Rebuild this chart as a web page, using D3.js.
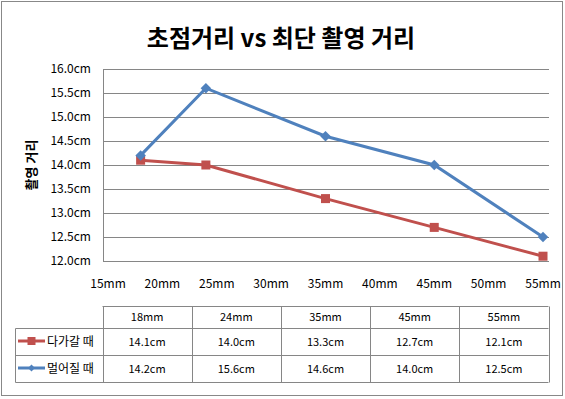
<!DOCTYPE html>
<html>
<head>
<meta charset="utf-8">
<script src="https://cdn.jsdelivr.net/npm/d3@7"></script>
<style>
  body { margin: 0; background: #fff; }
  svg { display: block; font-family: 'Noto Sans CJK KR', 'Noto Sans', sans-serif; }
</style>
</head>
<body>
<svg id="chart" width="565" height="399"></svg>
<script>
// 데이터
const focal = [18, 24, 35, 45, 55];
const approach = [14.1, 14.0, 13.3, 12.7, 12.1];   // 다가갈 때
const away = [14.2, 15.6, 14.6, 14.0, 12.5];       // 멀어질 때
const xTicks = [15, 20, 25, 30, 35, 40, 45, 50, 55];
const yTicks = [12.0, 12.5, 13.0, 13.5, 14.0, 14.5, 15.0, 15.5, 16.0];
const seriesNames = ['다가갈 때', '멀어질 때'];

const red = '#C0504D';
const blue = '#4F81BD';
const gridColor = '#868686';

const svg = d3.select('#chart');

// 바깥 테두리
svg.append('rect')
  .attr('x', 1.5).attr('y', 1.5)
  .attr('width', 561).attr('height', 394)
  .attr('fill', '#fff')
  .attr('stroke', '#888')
  .attr('stroke-width', 1);

// 제목
svg.append('text')
  .attr('x', 281).attr('y', 47)
  .attr('text-anchor', 'middle')
  .style('font-size', '24px')
  .style('font-weight', 'bold')
  .text('초점거리 vs 최단 촬영 거리');

// 플롯 영역
const plot = { left: 103, right: 549, top: 69, bottom: 261 };
const x = d3.scaleLinear().domain([15, 55]).range([108, 543]);
const y = d3.scaleLinear().domain([12, 16]).range([plot.bottom, plot.top]);

// 가로 격자선
svg.append('g')
  .selectAll('line')
  .data(yTicks)
  .join('line')
  .attr('x1', plot.left).attr('x2', plot.right)
  .attr('y1', d => Math.round(y(d)) + 0.5)
  .attr('y2', d => Math.round(y(d)) + 0.5)
  .attr('stroke', gridColor)
  .attr('stroke-width', 1);

// 세로 축선
svg.append('line')
  .attr('x1', plot.left + 0.5).attr('x2', plot.left + 0.5)
  .attr('y1', plot.top).attr('y2', plot.bottom + 1)
  .attr('stroke', gridColor);

// y축 눈금 라벨
svg.append('g')
  .selectAll('text')
  .data(yTicks)
  .join('text')
  .attr('x', 91)
  .attr('y', d => y(d))
  .attr('dy', '0.35em')
  .attr('text-anchor', 'end')
  .style('font-size', '12px')
  .text(d => d.toFixed(1) + 'cm');

// x축 눈금 라벨
svg.append('g')
  .selectAll('text')
  .data(xTicks)
  .join('text')
  .attr('x', d => x(d))
  .attr('y', 288)
  .attr('text-anchor', 'middle')
  .style('font-size', '12px')
  .text(d => d + 'mm');

// y축 제목
svg.append('text')
  .attr('transform', 'translate(36, 165) rotate(-90)')
  .attr('text-anchor', 'middle')
  .style('font-size', '13px')
  .style('font-weight', 'bold')
  .text('촬영 거리');

// 선
const line = d3.line()
  .x((d, i) => x(focal[i]))
  .y(d => y(d));

svg.append('path')
  .datum(approach)
  .attr('d', line)
  .attr('fill', 'none')
  .attr('stroke', red)
  .attr('stroke-width', 3);

svg.append('g')
  .selectAll('rect')
  .data(approach)
  .join('rect')
  .attr('x', (d, i) => x(focal[i]) - 4.5)
  .attr('y', d => y(d) - 4.5)
  .attr('width', 9).attr('height', 9)
  .attr('fill', red);

svg.append('path')
  .datum(away)
  .attr('d', line)
  .attr('fill', 'none')
  .attr('stroke', blue)
  .attr('stroke-width', 3);

const diamond = d3.symbol().type(d3.symbolDiamond2).size(70);
svg.append('g')
  .selectAll('path')
  .data(away)
  .join('path')
  .attr('transform', (d, i) => `translate(${x(focal[i])}, ${y(d)})`)
  .attr('d', diamond)
  .attr('fill', blue);

// 데이터 표
const table = { left: 15.5, colStart: 102.5, colW: 89.2, top: 306.5, rowH: [22, 27, 27] };
const rowY = [table.top, table.top + table.rowH[0], table.top + table.rowH[0] + table.rowH[1],
  table.top + table.rowH[0] + table.rowH[1] + table.rowH[2]];
const tableRight = table.colStart + table.colW * focal.length;
const tg = svg.append('g').attr('stroke', gridColor).attr('stroke-width', 1);

// 가로선
tg.append('line').attr('x1', table.colStart).attr('x2', tableRight).attr('y1', rowY[0]).attr('y2', rowY[0]);
[1, 2, 3].forEach(r => {
  tg.append('line').attr('x1', table.left).attr('x2', tableRight).attr('y1', rowY[r]).attr('y2', rowY[r]);
});
// 세로선
tg.append('line').attr('x1', table.left).attr('x2', table.left).attr('y1', rowY[1]).attr('y2', rowY[3]);
d3.range(focal.length + 1).forEach(c => {
  const cx = Math.round(table.colStart + c * table.colW) + 0.5;
  tg.append('line').attr('x1', cx).attr('x2', cx).attr('y1', rowY[0]).attr('y2', rowY[3]);
});

const cellX = i => table.colStart + (i + 0.5) * table.colW;

svg.append('g')
  .selectAll('text')
  .data(focal)
  .join('text')
  .attr('x', (d, i) => cellX(i))
  .attr('y', (rowY[0] + rowY[1]) / 2)
  .attr('dy', '0.35em')
  .attr('text-anchor', 'middle')
  .style('font-size', '11px')
  .text(d => d + 'mm');

[approach, away].forEach((vals, r) => {
  const cy = (rowY[r + 1] + rowY[r + 2]) / 2;
  svg.append('g')
    .selectAll('text')
    .data(vals)
    .join('text')
    .attr('x', (d, i) => cellX(i))
    .attr('y', cy)
    .attr('dy', '0.35em')
    .attr('text-anchor', 'middle')
    .style('font-size', '11px')
    .text(d => d.toFixed(1) + 'cm');

  // 범례
  const color = r === 0 ? red : blue;
  svg.append('line')
    .attr('x1', 18).attr('x2', 45)
    .attr('y1', cy - 1).attr('y2', cy - 1)
    .attr('stroke', color).attr('stroke-width', 3);
  if (r === 0) {
    svg.append('rect')
      .attr('x', 27.5).attr('y', cy - 5)
      .attr('width', 8).attr('height', 8)
      .attr('fill', red);
  } else {
    svg.append('path')
      .attr('transform', `translate(31.5, ${cy - 1})`)
      .attr('d', d3.symbol().type(d3.symbolDiamond2).size(30))
      .attr('fill', blue);
  }
  svg.append('text')
    .attr('x', 47)
    .attr('y', cy)
    .attr('dy', '0.35em')
    .style('font-size', '12px')
    .text(seriesNames[r]);
});
</script>
</body>
</html>
